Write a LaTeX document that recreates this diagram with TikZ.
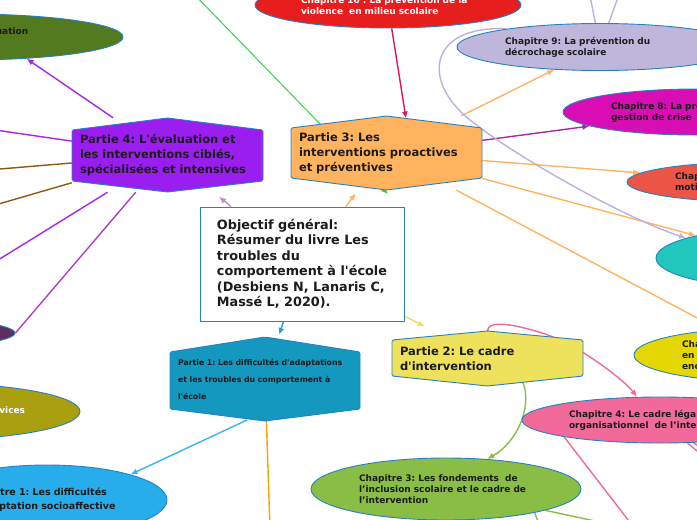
\documentclass[tikz,border=0pt]{standalone}
\usepackage{fontspec}
\setmainfont{DejaVu Sans}[Ligatures=TeXOff]
\usepackage{xcolor}
\usetikzlibrary{arrows.meta,backgrounds,shapes.geometric}
\definecolor{mmborder}{HTML}{2681C4}
\definecolor{mmtext}{HTML}{1C1C1C}
\definecolor{partfour}{HTML}{9A1EF0}
\definecolor{partthree}{HTML}{FFB35E}
\definecolor{parttwo}{HTML}{EEE15C}
\definecolor{partone}{HTML}{1598BF}
\definecolor{chten}{HTML}{E61E1E}
\definecolor{chnine}{HTML}{BEB7DB}
\definecolor{cheight}{HTML}{D90DB4}
\definecolor{chseven}{HTML}{EA5546}
\definecolor{chsix}{HTML}{21C7BD}
\definecolor{chfive}{HTML}{E5D800}
\definecolor{chfour}{HTML}{F26A99}
\definecolor{chthree}{HTML}{89BD45}
\definecolor{chone}{HTML}{27ADEB}
\definecolor{chserv}{HTML}{A99F0F}
\definecolor{chdark}{HTML}{5E2F5B}
\definecolor{cheval}{HTML}{547A1F}
\definecolor{lkpurple}{HTML}{A526F2}
\definecolor{lkbrown}{HTML}{8A5A14}
\definecolor{lkmagenta}{HTML}{B23FC2}
\definecolor{lklilac}{HTML}{C688D2}
\definecolor{lkorange}{HTML}{FFB35E}
\definecolor{lkamber}{HTML}{F7A300}
\definecolor{lkyellow}{HTML}{E9E063}
\definecolor{lkblue}{HTML}{2E9BE0}
\definecolor{lksky}{HTML}{3BB3F0}
\definecolor{lkgreen}{HTML}{34D048}
\definecolor{lkred}{HTML}{E0145E}
\definecolor{lkplum}{HTML}{A52AA8}
\definecolor{lklavender}{HTML}{BAB2DA}
\definecolor{lkpink}{HTML}{F06A98}
\definecolor{lkleaf}{HTML}{89BD45}
\tikzset{
  every picture/.append style={line cap=round,line join=round},
  mm link/.style={line width=1.4pt},
  mm arrow/.style={line width=1.4pt,-{Latex[length=7pt,width=6pt]}},
  mm hex/.style={draw=mmborder,line width=0.9pt,rounded corners=1.5pt},
  mm goal/.style={draw=mmborder,line width=0.9pt,fill=white,align=left,
    minimum width=204pt,minimum height=114pt,text=mmtext,
    font=\bfseries\fontsize{12.8}{15.5}\selectfont},
  mm part/.style={align=left,text width=175pt,inner xsep=8pt,inner ysep=0pt,
    minimum width=191pt,text=mmtext,font=\bfseries\fontsize{11.5}{15}\selectfont},
  mm chapter/.style={ellipse,draw=mmborder,line width=0.9pt,inner sep=0pt,
    align=left,text=mmtext,font=\bfseries\fontsize{9}{11}\selectfont}
}

\begin{document}
\frenchspacing
\begin{tikzpicture}[x=1pt, y=-1pt]
  \useasboundingbox (0,0) rectangle (697,520);
  \clip (0,0) rectangle (697,520);

  % the four parts
  \filldraw[mm hex, fill=partfour] (72,130) -- (167.5,118) -- (263,130)
    -- (263,181) -- (167.5,192) -- (72,181) -- cycle;
  \filldraw[mm hex, fill=partthree] (291,128) -- (386.5,116) -- (482,128)
    -- (482,178) -- (386.5,190) -- (291,178) -- cycle;
  \filldraw[mm hex, fill=parttwo] (392,340) -- (487.5,331) -- (583,340)
    -- (583,376) -- (487.5,386) -- (392,376) -- cycle;
  \filldraw[mm hex, fill=partone] (170,352) -- (265,337) -- (360,352)
    -- (360,409) -- (265,421) -- (170,409) -- cycle;

  \node[mm part, minimum height=74pt] (p4) at (167.5,155)
    {Partie 4: L'évaluation et\\les interventions ciblés,\\spécialisées et intensives};
  \node[mm part, minimum height=74pt] (p3) at (386.5,153)
    {Partie 3: Les\\interventions proactives\\et préventives};
  \node[mm part, minimum height=55pt] (p2) at (487.5,358.5)
    {Partie 2: Le cadre\\d'intervention};
  \node[mm part, minimum height=84pt, text width=174pt,
    font=\bfseries\fontsize{7.8}{17}\selectfont] (p1) at (265,379)
    {Partie 1: Les difficultés d'adaptations\\et les troubles du comportement à\\l'école};

  \node[mm goal] (goal) at (302,264)
    {Objectif général:\\Résumer du livre Les\\troubles du\\comportement à l'école\\(Desbiens N, Lanaris C,\\Massé L, 2020).};

  % chapters
  \node[mm chapter, fill=chten, text=white, minimum width=266pt,
    minimum height=46pt, text width=174pt] (ch10) at (388,5)
    {Chapitre 10 : La prévention de la\\violence\ \ en milieu scolaire};
  \node[mm chapter, fill=chnine, minimum width=286pt, minimum height=47pt,
    text width=190pt] (ch9) at (600,47)
    {Chapitre 9: La prévention du\\décrochage scolaire};
  \node[mm chapter, fill=cheight, minimum width=266pt, minimum height=46pt,
    text width=170pt] (ch8) at (696,112)
    {Chapitre 8: La prévention et la\\gestion de crise};
  \node[mm chapter, fill=chseven, minimum width=260pt, minimum height=40pt,
    text width=164pt] (ch7) at (757,182)
    {Chapitre 7: La promotion de la\\motivation scolaire};
  \node[mm chapter, fill=chsix, minimum width=248pt, minimum height=60pt]
    (ch6) at (780,258) {};
  \node[mm chapter, fill=chfive, minimum width=266pt, minimum height=54pt,
    text width=170pt] (ch5) at (767,355)
    {Chapitre 5: La gestion de classe\\en contexte inclusif\\encadrant};
  \node[mm chapter, fill=chfour, minimum width=276pt, minimum height=46pt,
    text width=182pt] (ch4) at (660,420)
    {Chapitre 4: Le cadre légal et\\organisationnel\ \ de l’intervention};
  \node[mm chapter, fill=chthree, minimum width=270pt, minimum height=62pt,
    text width=174pt] (ch3) at (446,489)
    {Chapitre 3: Les fondements\ \ de\\l’inclusion scolaire et le cadre de\\l’intervention};
  \node[mm chapter, fill=chone, minimum width=240pt, minimum height=70pt,
    text width=154pt, font=\bfseries\fontsize{9.5}{14}\selectfont] (ch1) at (47,500)
    {Chapitre 1: Les difficultés\\d'adaptation socioaffective};
  \node[mm chapter, fill=cheval, minimum width=312pt, minimum height=46pt,
    text width=130pt] (evalchap) at (-33,37)
    {Chapitre 11: L’évaluation\\du comportement};
  \node[mm chapter, fill=chserv, text=white, minimum width=305pt,
    minimum height=57pt] (servchap) at (-72.5,411.5)
    {Chapitre 15: Le continuum de services};
  \node[mm chapter, fill=chdark, minimum width=230pt, minimum height=30pt]
    (darkchap) at (-100,333) {};

  % free ends
  \coordinate (outA) at (-60,122);
  \coordinate (outB) at (-60,174);
  \coordinate (outC) at (-60,221);
  \coordinate (outD) at (-60,296);
  \coordinate (greenfrom) at (190,-10);
  \coordinate (greento) at (388,194);
  \coordinate (p3top) at (406,118.5);
  \coordinate (ch9upA) at (585,-30);
  \coordinate (ch9upB) at (628,-30);
  \coordinate (ch3downA) at (545,540);
  \coordinate (ch3downB) at (660,535);
  \coordinate (ch4downA) at (659,560);
  \coordinate (ch4downB) at (780,520);
  \coordinate (ch4downC) at (800,515);
  \coordinate (p1down) at (271,560);

  \begin{scope}[on background layer]
    % from the objective
    \draw[mm arrow, lklilac, shorten >=7.3pt] (goal) -- (p4);
    \draw[mm arrow, lkorange, shorten >=4pt] (goal) -- (p3);
    \draw[mm arrow, lkyellow, shorten >=9.3pt] (goal) -- (p2);
    \draw[mm arrow, lkblue, shorten >=2pt] (goal) -- (p1);
    % part 4
    \draw[mm arrow, lkpurple] (p4) -- (evalchap.-20);
    \draw[mm link, lkpurple] (p4) -- (outA);
    \draw[mm link, lkbrown] (p4) -- (outB);
    \draw[mm link, lkbrown] (p4) -- (outC);
    \draw[mm link, lkpurple] (p4) -- (outD);
    \draw[mm link, lkmagenta] (p4) -- (darkchap.east);
    % part 3
    \draw[mm arrow, lkgreen, line width=1pt] (greenfrom) -- (greento);
    \draw[mm arrow, lkred] (ch10) -- (p3top);
    \draw[mm arrow, lkorange] (p3) -- (ch9);
    \draw[mm arrow, lkplum] (p3) -- (ch8);
    \draw[mm arrow, lkorange] (p3) -- (ch7);
    \draw[mm arrow, lkorange] (p3) -- (ch6);
    \draw[mm arrow, lkorange] (p3) -- (ch5);
    \draw[mm arrow, lklavender] (ch9.169) .. controls (430,25) and (420,80)
      .. (470,120) .. controls (520,160) and (630,220) .. (ch6.168);
    \draw[mm link, lklavender] (ch9) -- (ch9upA);
    \draw[mm link, lklavender] (ch9) -- (ch9upB);
    % part 2
    \draw[mm arrow, lkpink] (p2.north) .. controls (488,322) and (505,321)
      .. (545,334) .. controls (565,341) and (575,347)
      .. (590,357) .. controls (610,370) and (628,385) .. (ch4.135);
    \draw[mm arrow, lkleaf] (p2.center) .. controls (545,365) and (530,435) .. (ch3.36);
    \draw[mm link, lkleaf] (ch3.-15) -- (ch3downA);
    \draw[mm link, lkleaf] (ch3) -- (ch3downB);
    \draw[mm link, lkpink] (ch4.190) -- (ch4downA);
    \draw[mm link, lkpink] (ch4) -- (ch4downB);
    \draw[mm link, lkpink] (ch4) -- (ch4downC);
    % part 1
    \draw[mm arrow, lksky, shorten <=-3pt] (p1.244) -- (ch1.17);
    \draw[mm link, lkamber] (p1) -- (p1down);
  \end{scope}
\end{tikzpicture}
\end{document}
